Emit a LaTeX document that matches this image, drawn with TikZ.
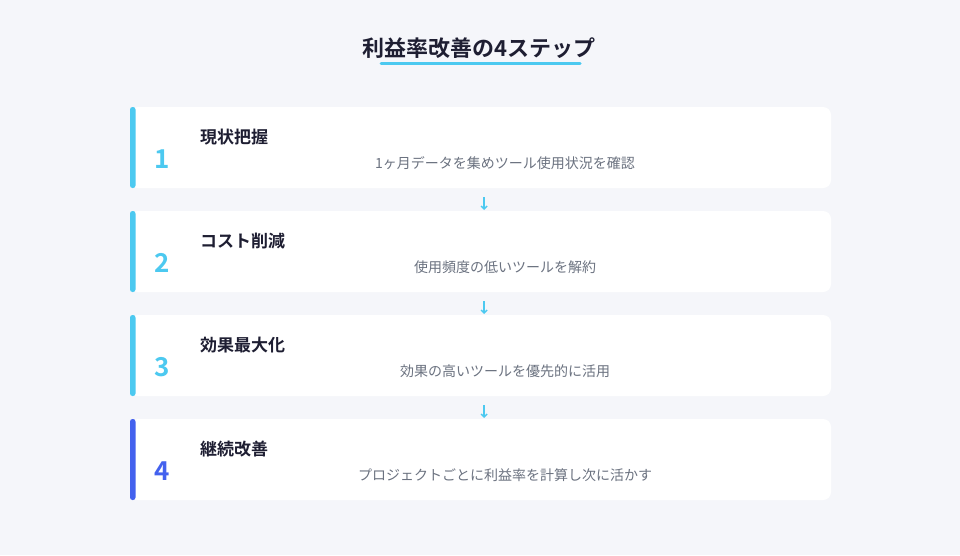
\documentclass[tikz,border=0pt]{standalone}
\usepackage{fontspec}
\setmainfont{Noto Sans CJK JP}[BoldFont={Noto Sans CJK JP Bold}]
\usetikzlibrary{calc,arrows.meta}
\definecolor{bg}{HTML}{F5F6FA}
\definecolor{cyanc}{HTML}{4CC9F0}
\definecolor{bluec}{HTML}{4361EE}
\definecolor{ink}{HTML}{1E1E32}
\definecolor{grayt}{HTML}{6B7280}
\tikzset{
  card/.style={fill=white, rounded corners=8pt, draw=none},
  bar/.style={rounded corners=2.5pt, draw=none},
  stitle/.style={anchor=west, inner sep=0pt, font=\bfseries\fontsize{17}{19}\selectfont, text=ink},
  sdesc/.style={anchor=center, inner sep=0pt, font=\fontsize{14}{16}\selectfont, text=grayt},
  snum/.style={anchor=center, inner sep=0pt, font=\bfseries\fontsize{26}{28}\selectfont},
  flow/.style={draw=cyanc, line width=1.6pt, -{Straight Barb[length=3pt,width=6pt,line width=1.4pt]}}
}
\begin{document}
\begin{tikzpicture}[x=1pt,y=-1pt]
\fill[bg] (0,0) rectangle (960,555);
\useasboundingbox (0,0) rectangle (960,555);
\node[inner sep=0pt, font=\bfseries\fontsize{22}{24}\selectfont, text=ink] (title) at (479,48) {利益率改善の4ステップ};
\draw[cyanc, line width=3pt, line cap=round] (381,63) coordinate (ul1) -- (580,63) coordinate (ul2);
% cards
\foreach \i/\y/\c/\t/\d in {1/107/cyanc/現状把握/1ヶ月データを集めツール使用状況を確認,
                           2/211/cyanc/コスト削減/使用頻度の低いツールを解約,
                           3/315/cyanc/効果最大化/効果の高いツールを優先的に活用,
                           4/419/bluec/継続改善/プロジェクトごとに利益率を計算し次に活かす}{
  \path[card] (130,\y) rectangle (831,\y+81);
  \node[inner sep=0pt, minimum width=701pt, minimum height=81pt, anchor=north west] (c\i) at (130,\y) {};
  \fill[\c, bar] (130,\y) rectangle (135.5,\y+81);
  \node[stitle] (t\i) at (200,\y+30) {\t};
  \node[snum, text=\c] (n\i) at (162.5,\y+52) {\i};
  \node[sdesc] (d\i) at (505,\y+56) {\d};
}
\foreach \a/\b in {1/2,2/3,3/4}{
  \draw[flow] ($(c\a.south)+(3.5,9)$) -- ($(c\b.north)+(3.5,-1)$);
}
\end{tikzpicture}
\end{document}
